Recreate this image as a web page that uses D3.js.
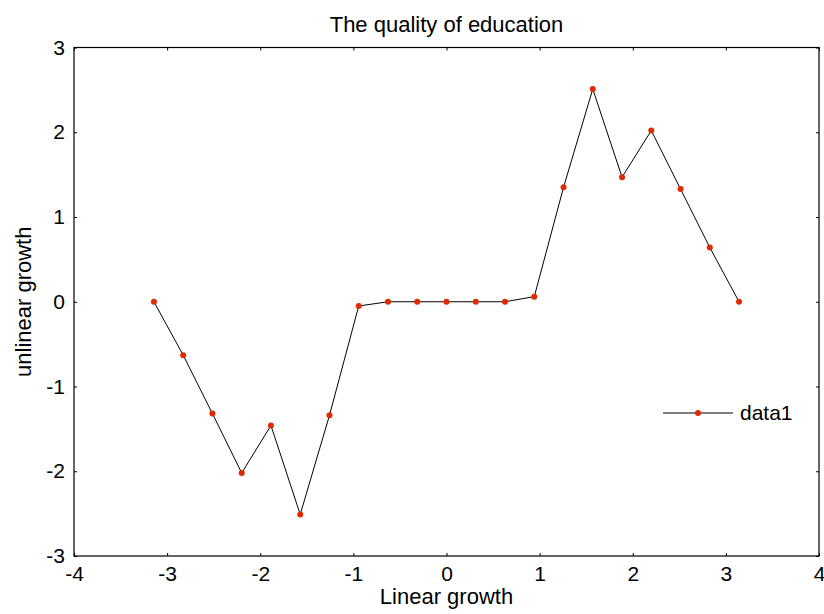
<!DOCTYPE html>
<html>
<head>
<meta charset="utf-8">
<script src="https://cdn.jsdelivr.net/npm/d3@7"></script>
<style>
  body { margin: 0; background: #fff; }
  text { font-family: "Liberation Sans", Arial, sans-serif; fill: #000; }
</style>
</head>
<body>
<div id="chart"></div>
<script>
// Data
const xValues = [-3.1416, -2.8274, -2.5133, -2.1991, -1.885, -1.5708, -1.2566, -0.9425, -0.6283, -0.3142,
                 0, 0.3142, 0.6283, 0.9425, 1.2566, 1.5708, 1.885, 2.1991, 2.5133, 2.8274, 3.1416];
const yValues = [0, -0.63, -1.32, -2.02, -1.46, -2.51, -1.34, -0.05, 0, 0,
                 0, 0, 0, 0.06, 1.35, 2.51, 1.47, 2.02, 1.33, 0.64, 0];
const xTicks = [-4, -3, -2, -1, 0, 1, 2, 3, 4];
const yTicks = [-3, -2, -1, 0, 1, 2, 3];
const seriesName = "data1";

const width = 824, height = 614;
const margin = { left: 74, right: 5, top: 47.5, bottom: 58 };
const fontSize = "21px";

const svg = d3.select("#chart").append("svg")
    .attr("width", width)
    .attr("height", height);

const x = d3.scaleLinear().domain([-4, 4]).range([margin.left, width - margin.right]);
const y = d3.scaleLinear().domain([-3, 3]).range([height - margin.bottom, margin.top]);

// Axes (MATLAB style box, ticks pointing inward)
const tickLen = 3;
const fmt = d => String(d);
svg.append("g")
    .attr("transform", `translate(0,${y(-3)})`)
    .call(d3.axisBottom(x).tickValues(xTicks).tickFormat(fmt).tickSizeInner(-tickLen).tickSizeOuter(0).tickPadding(10))
    .call(g => g.select(".domain").remove());
svg.append("g")
    .attr("transform", `translate(0,${y(3)})`)
    .call(d3.axisTop(x).tickValues(xTicks).tickSizeInner(-tickLen).tickSizeOuter(0).tickFormat(""))
    .call(g => g.select(".domain").remove());
svg.append("g")
    .attr("transform", `translate(${x(-4)},0)`)
    .call(d3.axisLeft(y).tickValues(yTicks).tickFormat(fmt).tickSizeInner(-tickLen).tickSizeOuter(0).tickPadding(9))
    .call(g => g.select(".domain").remove());
svg.append("g")
    .attr("transform", `translate(${x(4)},0)`)
    .call(d3.axisRight(y).tickValues(yTicks).tickSizeInner(-tickLen).tickSizeOuter(0).tickFormat(""))
    .call(g => g.select(".domain").remove());

svg.selectAll(".tick text").style("font-size", fontSize).style("font-family", "'Liberation Sans', Arial, sans-serif");
svg.selectAll(".tick line").attr("stroke", "#000");

// box
svg.append("rect")
    .attr("x", x(-4)).attr("y", y(3))
    .attr("width", x(4) - x(-4)).attr("height", y(-3) - y(3))
    .attr("fill", "none").attr("stroke", "#000").attr("stroke-width", 1.2);

// line + markers
const pts = xValues.map((v, i) => [v, yValues[i]]);
svg.append("path")
    .datum(pts)
    .attr("fill", "none")
    .attr("stroke", "#000")
    .attr("stroke-width", 1)
    .attr("d", d3.line().x(d => x(d[0])).y(d => y(d[1])));

svg.append("g").selectAll("circle")
    .data(pts)
    .enter().append("circle")
    .attr("cx", d => x(d[0]))
    .attr("cy", d => y(d[1]))
    .attr("r", 3)
    .attr("fill", "#e02a00");

// legend (no box)
const lg = svg.append("g").attr("transform", "translate(663,413)");
lg.append("line").attr("x1", 0).attr("x2", 70).attr("y1", 0).attr("y2", 0).attr("stroke", "#000");
lg.append("circle").attr("cx", 35).attr("cy", 0).attr("r", 3).attr("fill", "#e02a00");
lg.append("text").attr("x", 77).attr("y", 7).style("font-size", fontSize).text(seriesName);

// title and labels
svg.append("text")
    .attr("x", (x(-4) + x(4)) / 2).attr("y", 32)
    .attr("text-anchor", "middle").style("font-size", "22px")
    .text("The quality of education");
svg.append("text")
    .attr("x", (x(-4) + x(4)) / 2).attr("y", 604)
    .attr("text-anchor", "middle").style("font-size", "22px")
    .text("Linear growth");
svg.append("text")
    .attr("transform", `translate(31,${(y(-3) + y(3)) / 2}) rotate(-90)`)
    .attr("text-anchor", "middle").style("font-size", "22px")
    .text("unlinear growth");
</script>
</body>
</html>
